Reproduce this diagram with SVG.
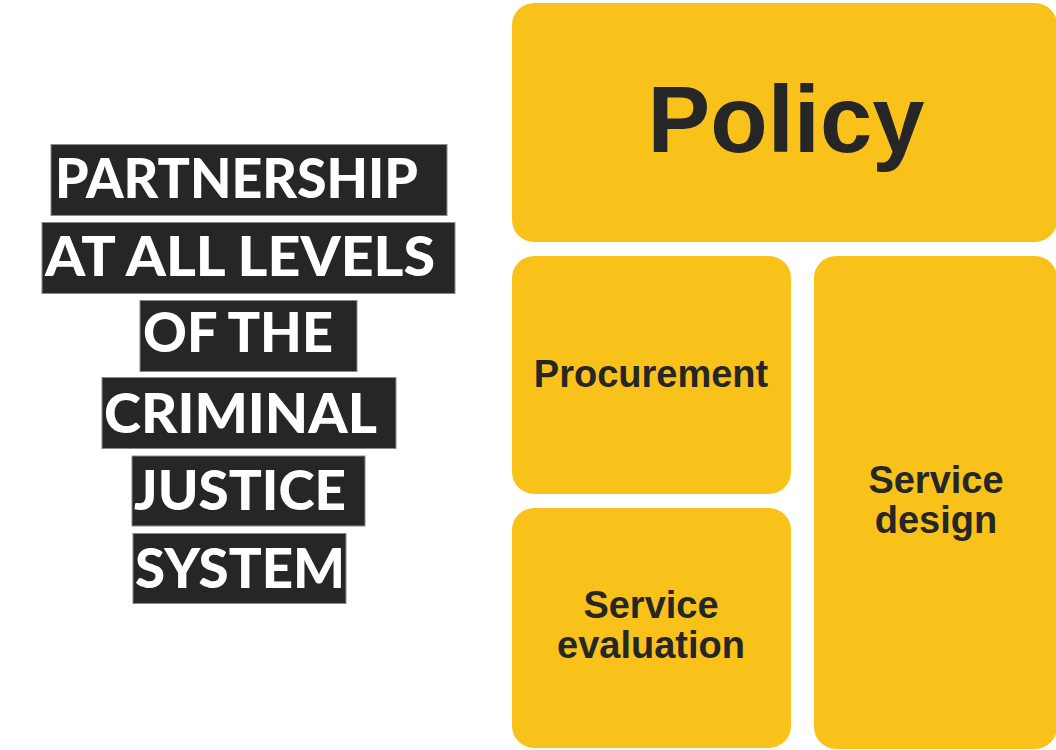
<svg xmlns="http://www.w3.org/2000/svg" width="1056" height="750" viewBox="0 0 1056 750">
<style>
.lbl{fill:#262626;stroke:#8a8a8a;stroke-width:1}
.lt{fill:#ffffff;font-family:Lato,"Noto Sans",sans-serif;font-weight:900;font-size:56px}
.box{fill:#F9C21A}
.bt{fill:#262626;font-family:"Liberation Sans",Arial,sans-serif;font-weight:bold;font-size:38px;text-anchor:middle}
</style>
<rect width="1056" height="750" fill="#ffffff"/>
<g id="title">
<rect class="lbl" x="51" y="144.5" width="396" height="71"/>
<text class="lt" x="55" y="198" textLength="363" lengthAdjust="spacingAndGlyphs">PARTNERSHIP</text>
<rect class="lbl" x="42" y="222.5" width="413" height="71"/>
<text class="lt" x="45" y="276" textLength="390" lengthAdjust="spacingAndGlyphs">AT ALL LEVELS</text>
<rect class="lbl" x="140" y="300.5" width="217" height="71"/>
<text class="lt" x="143" y="352" textLength="190" lengthAdjust="spacingAndGlyphs">OF THE</text>
<rect class="lbl" x="102" y="377.5" width="294" height="71"/>
<text class="lt" x="104" y="433" textLength="273" lengthAdjust="spacingAndGlyphs">CRIMINAL</text>
<rect class="lbl" x="132" y="456" width="233" height="70"/>
<text class="lt" x="134" y="510" textLength="212" lengthAdjust="spacingAndGlyphs">JUSTICE</text>
<rect class="lbl" x="133" y="533.5" width="213" height="70"/>
<text class="lt" x="135" y="588" textLength="210" lengthAdjust="spacingAndGlyphs">SYSTEM</text>
</g>
<g id="policy">
<rect class="box" x="512" y="3" width="545" height="239" rx="22"/>
<text class="bt" x="786" y="152" style="font-size:94px">Policy</text>
</g>
<g id="procurement">
<rect class="box" x="512" y="256" width="279" height="238" rx="22"/>
<text class="bt" x="651" y="387">Procurement</text>
</g>
<g id="service-evaluation">
<rect class="box" x="512" y="508" width="279" height="240" rx="22"/>
<text class="bt" x="651" y="618">Service</text>
<text class="bt" x="651" y="658">evaluation</text>
</g>
<g id="service-design">
<rect class="box" x="814" y="256" width="243" height="493" rx="22"/>
<text class="bt" x="936" y="493">Service</text>
<text class="bt" x="936" y="533">design</text>
</g>
<g id="connectors"></g>
</svg>
